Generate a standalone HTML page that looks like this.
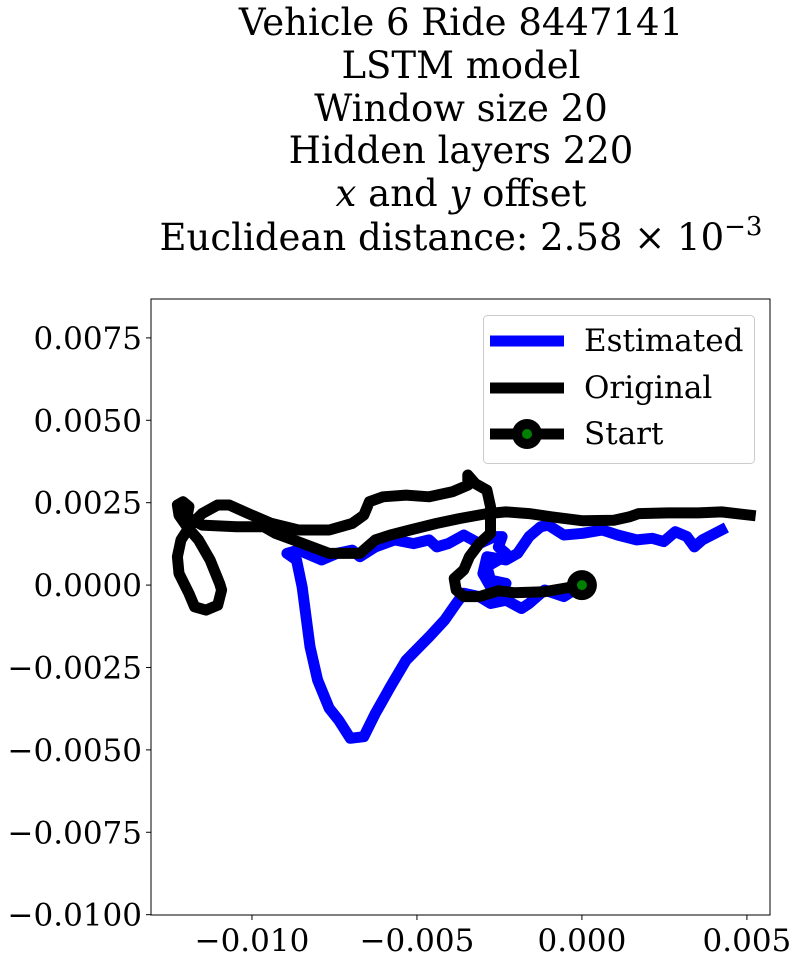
<!DOCTYPE html>
<html><head><meta charset="utf-8"><style>
html,body{margin:0;padding:0;background:#fff;}
svg{display:block;font-family:"DejaVu Serif","Liberation Serif",serif;}
</style></head><body>
<svg id="chart" width="797" height="962" xmlns="http://www.w3.org/2000/svg">
<g font-size="37" text-anchor="middle" fill="#000">
<text x="461" y="35">Vehicle 6 Ride 8447141</text>
<text x="461" y="78">LSTM model</text>
<text x="461" y="121">Window size 20</text>
<text x="461" y="163">Hidden layers 220</text>
<text x="461" y="206"><tspan font-style="italic">x</tspan> and <tspan font-style="italic">y</tspan> offset</text>
<text x="461" y="250">Euclidean distance: 2.58 × 10<tspan dy="-15" font-size="26">−3</tspan></text>
</g>
<g id="plot"></g>
<rect x="151" y="299" width="619" height="616" fill="none" stroke="#000" stroke-width="1"/>
<g id="yticks" font-size="31" text-anchor="end"></g>
<g id="xticks" font-size="31" text-anchor="middle"></g>
<g>
<rect x="483.5" y="315.5" width="271" height="148" rx="4" fill="#fff" fill-opacity="0.8" stroke="#ccc"/>
<line x1="490" y1="341" x2="564" y2="341" stroke="#0000ff" stroke-width="11"/>
<text x="584" y="351" font-size="31">Estimated</text>
<line x1="490" y1="388" x2="564" y2="388" stroke="#000" stroke-width="11"/>
<text x="584" y="398" font-size="31">Original</text>
<line x1="490" y1="434" x2="564" y2="434" stroke="#000" stroke-width="11"/>
<circle cx="527" cy="434" r="15" fill="#000"/>
<circle cx="527" cy="434" r="5" fill="green"/>
<text x="584" y="444" font-size="31">Start</text>
</g>
</svg>
<script>
const estX=[0,-0.55,-1.13,-1.60,-1.83,-2.30,-2.77,-3.11,-3.58,-3.81,-4.16,-4.63,-5.33,-5.80,-6.26,-6.61,-7.02,-7.37,-7.66,-8.01,-8.24,-8.48,-8.65,-8.94,-8.59,-7.89,-7.43,-6.96,-6.73,-6.26,-5.68,-5.10,-4.63,-4.40,-4.05,-3.58,-3.11,-2.65,-2.42,-2.53,-2.30,-2.53,-2.88,-2.77,-2.30,-2.77,-3.00,-2.88,-2.30,-1.95,-1.60,-1.25,-1.02,-0.55,0.03,0.62,1.08,1.66,2.13,2.48,2.83,3.18,3.41,3.65,4.23];
const estY=[0,-0.35,-0.15,-0.56,-0.71,-0.46,-0.56,-0.35,-0.25,-0.56,-1.06,-1.57,-2.28,-3.08,-3.89,-4.60,-4.65,-4.10,-3.74,-2.88,-1.87,-0.05,0.76,0.96,1.06,0.76,0.96,1.06,0.86,1.16,1.37,1.26,1.37,1.16,1.26,1.52,1.26,1.47,1.47,1.16,0.96,0.76,0.56,0.15,0.05,-0.05,0.35,0.86,0.76,0.96,1.47,1.77,1.82,1.52,1.57,1.67,1.52,1.37,1.42,1.32,1.62,1.47,1.16,1.37,1.67];
const origX=[0,-0.55,-1.13,-2.07,-2.53,-3.11,-3.58,-3.81,-3.87,-3.58,-3.41,-3.11,-2.77,-2.77,-2.88,-3.23,-3.46,-3.46,-3.93,-4.63,-5.33,-6.03,-6.44,-6.61,-6.96,-7.66,-8.59,-9.41,-10.11,-10.69,-11.04,-11.51,-11.86,-12.15,-12.26,-12.21,-11.91,-11.74,-11.39,-11.04,-10.92,-10.98,-11.27,-11.62,-11.97,-12.21,-12.26,-12.09,-11.91,-11.97,-11.51,-10.46,-9.64,-9.29,-8.59,-7.66,-6.73,-6.26,-5.80,-5.21,-4.40,-3.70,-2.88,-2.30,-1.60,-0.90,0.03,0.97,1.43,1.72,2.60,3.53,4.23,5.10];
const origY=[0,-0.10,-0.20,-0.23,-0.17,-0.35,-0.35,-0.15,0.20,0.46,0.86,1.26,1.57,2.38,2.88,3.08,3.34,3.03,2.83,2.68,2.73,2.68,2.53,2.12,1.87,1.67,1.67,1.87,2.17,2.43,2.43,2.17,1.82,1.37,0.86,0.35,-0.25,-0.66,-0.76,-0.61,-0.15,0.05,0.76,1.37,1.77,2.12,2.43,2.53,2.38,2.07,1.82,1.77,1.77,1.57,1.31,0.96,0.96,1.37,1.52,1.67,1.87,2.02,2.17,2.22,2.17,2.07,1.95,1.97,2.07,2.17,2.19,2.19,2.22,2.12];
const startPt=[0,0];
const yTickVals=[0.0075,0.005,0.0025,0,-0.0025,-0.005,-0.0075,-0.01];
const yTickLabels=["0.0075","0.0050","0.0025","0.0000","−0.0025","−0.0050","−0.0075","−0.0100"];
const xTickVals=[-0.01,-0.005,0,0.005];
const xTickLabels=["−0.010","−0.005","0.000","0.005"];
const xMin=-0.01306,xMax=0.0057,yMin=-0.01001,yMax=0.00868;
const L=151,R=770,T=299,B=915;
const sx=v=>L+(v-xMin)/(xMax-xMin)*(R-L);
const sy=v=>B-(v-yMin)/(yMax-yMin)*(B-T);
const NS="http://www.w3.org/2000/svg";
const plot=document.getElementById('plot');
function path(xs,ys,color,name){
  const p=document.createElementNS(NS,'polyline');
  p.setAttribute('points',xs.map((x,i)=>sx(x*1e-3).toFixed(1)+','+sy(ys[i]*1e-3).toFixed(1)).join(' '));
  p.setAttribute('fill','none');p.setAttribute('stroke',color);p.setAttribute('stroke-width','11');
  p.setAttribute('stroke-linejoin','round');p.setAttribute('stroke-linecap','square');
  
  
  plot.appendChild(p);
}
path(estX,estY,'#0000ff','estimated-path');
path(origX,origY,'#000','original-path');
const c1=document.createElementNS(NS,'circle');
c1.setAttribute('cx',sx(startPt[0]));c1.setAttribute('cy',sy(startPt[1]));c1.setAttribute('r','15');c1.setAttribute('fill','#000');


plot.appendChild(c1);
const c2=document.createElementNS(NS,'circle');
c2.setAttribute('cx',sx(startPt[0]));c2.setAttribute('cy',sy(startPt[1]));c2.setAttribute('r','5');c2.setAttribute('fill','green');


plot.appendChild(c2);
const yg=document.getElementById('yticks');
yTickVals.forEach((v,i)=>{
  const y=sy(v);
  const l=document.createElementNS(NS,'line');
  l.setAttribute('x1',L-5);l.setAttribute('x2',L);l.setAttribute('y1',y);l.setAttribute('y2',y);l.setAttribute('stroke','#000');
  
  
  yg.appendChild(l);
  const t=document.createElementNS(NS,'text');
  t.setAttribute('x',L-9);t.setAttribute('y',y+11);t.textContent=yTickLabels[i];
  
  
  yg.appendChild(t);
});
const xg=document.getElementById('xticks');
xTickVals.forEach((v,i)=>{
  const x=sx(v);
  const l=document.createElementNS(NS,'line');
  l.setAttribute('x1',x);l.setAttribute('x2',x);l.setAttribute('y1',B);l.setAttribute('y2',B+5);l.setAttribute('stroke','#000');
  
  
  xg.appendChild(l);
  const t=document.createElementNS(NS,'text');
  t.setAttribute('x',x);t.setAttribute('y',B+36);t.textContent=xTickLabels[i];
  
  
  xg.appendChild(t);
});
</script>
</body></html>
